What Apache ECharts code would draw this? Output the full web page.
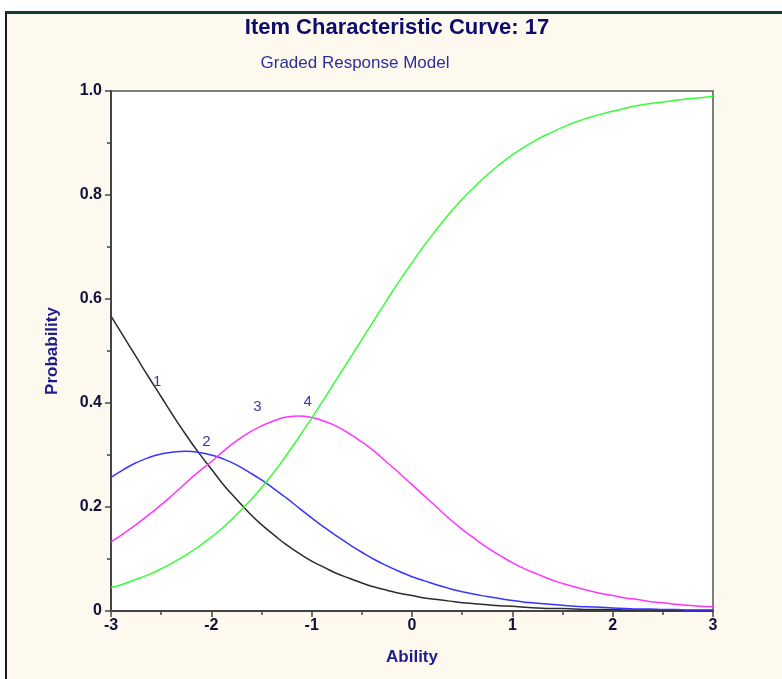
<!DOCTYPE html>
<html>
<head>
<meta charset="utf-8">
<script src="https://cdn.jsdelivr.net/npm/echarts@6/dist/echarts.min.js"></script>
<style>
  html, body { margin: 0; padding: 0; background: #ffffff; }
  #frame { position: absolute; left: 5px; top: 11px; width: 777px; height: 668px;
           background: #fef9ee; border-left: 2px solid #1a1a1a; border-top: 3px solid #1b3838; box-sizing: border-box; }
  #chart { position: absolute; left: 0; top: 0; width: 782px; height: 679px; }
</style>
</head>
<body>
<div id="frame"></div>
<div id="chart"></div>
<script>
// Ability values (theta)
const theta = [-3, -2.875, -2.75, -2.625, -2.5, -2.375, -2.25, -2.125, -2,
               -1.875, -1.75, -1.625, -1.5, -1.375, -1.25, -1.125, -1,
               -0.875, -0.75, -0.625, -0.5, -0.375, -0.25, -0.125, 0,
               0.125, 0.25, 0.375, 0.5, 0.625, 0.75, 0.875, 1,
               1.125, 1.25, 1.375, 1.5, 1.625, 1.75, 1.875, 2,
               2.125, 2.25, 2.375, 2.5, 2.625, 2.75, 2.875, 3];
// Category response probabilities
const cat1 = [0.567, 0.528, 0.489, 0.450, 0.412, 0.374, 0.338, 0.304, 0.273,
              0.242, 0.215, 0.189, 0.166, 0.146, 0.127, 0.111, 0.096,
              0.084, 0.072, 0.063, 0.054, 0.046, 0.040, 0.034, 0.030,
              0.025, 0.022, 0.019, 0.016, 0.014, 0.012, 0.010, 0.009,
              0.007, 0.006, 0.005, 0.005, 0.004, 0.003, 0.003, 0.003,
              0.002, 0.002, 0.002, 0.001, 0.001, 0.001, 0.001, 0.001];
const cat2 = [0.257, 0.272, 0.285, 0.295, 0.302, 0.306, 0.307, 0.305, 0.300,
              0.292, 0.281, 0.267, 0.252, 0.235, 0.217, 0.198, 0.179,
              0.161, 0.144, 0.128, 0.113, 0.099, 0.087, 0.076, 0.066,
              0.058, 0.050, 0.043, 0.037, 0.032, 0.028, 0.024, 0.020,
              0.017, 0.015, 0.013, 0.011, 0.009, 0.008, 0.007, 0.006,
              0.005, 0.004, 0.004, 0.003, 0.003, 0.002, 0.002, 0.002];
const cat3 = [0.133, 0.149, 0.166, 0.185, 0.204, 0.225, 0.247, 0.268, 0.287,
              0.308, 0.327, 0.343, 0.356, 0.366, 0.373, 0.375, 0.372,
              0.365, 0.355, 0.341, 0.325, 0.307, 0.286, 0.265, 0.243,
              0.221, 0.199, 0.177, 0.157, 0.139, 0.122, 0.107, 0.093,
              0.081, 0.071, 0.061, 0.053, 0.046, 0.040, 0.034, 0.030,
              0.025, 0.022, 0.018, 0.016, 0.013, 0.011, 0.009, 0.008];
const cat4 = [0.045, 0.052, 0.061, 0.070, 0.081, 0.094, 0.108, 0.124, 0.142,
              0.162, 0.185, 0.210, 0.237, 0.267, 0.300, 0.335, 0.371,
              0.408, 0.446, 0.484, 0.522, 0.560, 0.598, 0.635, 0.670,
              0.704, 0.735, 0.765, 0.792, 0.816, 0.839, 0.859, 0.877,
              0.893, 0.907, 0.919, 0.930, 0.940, 0.948, 0.955, 0.961,
              0.967, 0.972, 0.976, 0.979, 0.982, 0.985, 0.987, 0.990];
const catNames = ['1', '2', '3', '4'];
// Curve label anchor points (ability, probability)
const curveLabels = [[-2.54, 0.440], [-2.05, 0.326], [-1.54, 0.392], [-1.04, 0.402]];

const colors = ['#2b2b2b', '#3535ff', '#ff35ff', '#35ff35'];
const allCats = [cat1, cat2, cat3, cat4];

const chart = echarts.init(document.getElementById('chart'));
const font = '"Liberation Sans", Arial, sans-serif';

const series = allCats.map((vals, i) => ({
  name: catNames[i],
  type: 'line',
  smooth: true,
  symbol: 'none',
  lineStyle: { color: colors[i], width: 1.5 },
  data: theta.map((t, j) => [t, vals[j]]),
  z: 3,
  markPoint: {
    symbol: 'circle', symbolSize: 0,
    label: { show: true, formatter: catNames[i], color: '#3a3a9c', fontSize: 15,
             fontFamily: font, position: 'inside' },
    data: [{ coord: curveLabels[i], value: catNames[i] }]
  }
}));

chart.setOption({
  backgroundColor: 'transparent',
  animation: false,
  title: [
    { text: 'Item Characteristic Curve: 17', left: 392, top: 12, textAlign: 'center',
      textStyle: { color: '#0c0c6c', fontSize: 22, fontWeight: 'bold', fontFamily: font } },
    { text: 'Graded Response Model', left: 350, top: 50, textAlign: 'center',
      textStyle: { color: '#2e2e96', fontSize: 17, fontWeight: 'normal', fontFamily: font } }
  ],
  grid: { left: 111, right: 69, top: 91, bottom: 68, show: true,
          backgroundColor: '#ffffff', borderColor: '#555555', borderWidth: 1.5 },
  xAxis: {
    type: 'value', min: -3, max: 3, interval: 1,
    name: 'Ability', nameLocation: 'middle', nameGap: 38,
    nameTextStyle: { color: '#1c1c8c', fontSize: 17, fontWeight: 'bold', fontFamily: font },
    axisLine: { show: true, onZero: false, lineStyle: { color: '#444444', width: 2 } },
    axisTick: { show: true, inside: false, length: 6, lineStyle: { color: '#444444', width: 1.5 } },
    minorTick: { show: true, splitNumber: 2, length: 4, lineStyle: { color: '#444444', width: 1.5 } },
    splitLine: { show: false },
    axisLabel: { color: '#10103a', fontSize: 16, fontWeight: 'bold', fontFamily: font, margin: 7 }
  },
  yAxis: {
    type: 'value', min: 0, max: 1, interval: 0.2,
    name: 'Probability', nameLocation: 'middle', nameGap: 50,
    nameTextStyle: { color: '#1c1c8c', fontSize: 17, fontWeight: 'bold', fontFamily: font },
    axisLine: { show: true, onZero: false, lineStyle: { color: '#444444', width: 2 } },
    axisTick: { show: true, inside: false, length: 6, lineStyle: { color: '#444444', width: 1.5 } },
    minorTick: { show: true, splitNumber: 2, length: 4, lineStyle: { color: '#444444', width: 1.5 } },
    splitLine: { show: false },
    axisLabel: { color: '#10103a', fontSize: 16, fontWeight: 'bold', fontFamily: font, margin: 9,
                 formatter: v => (v === 0 ? '0' : v.toFixed(1)) }
  },
  series: series
});
</script>
</body>
</html>
